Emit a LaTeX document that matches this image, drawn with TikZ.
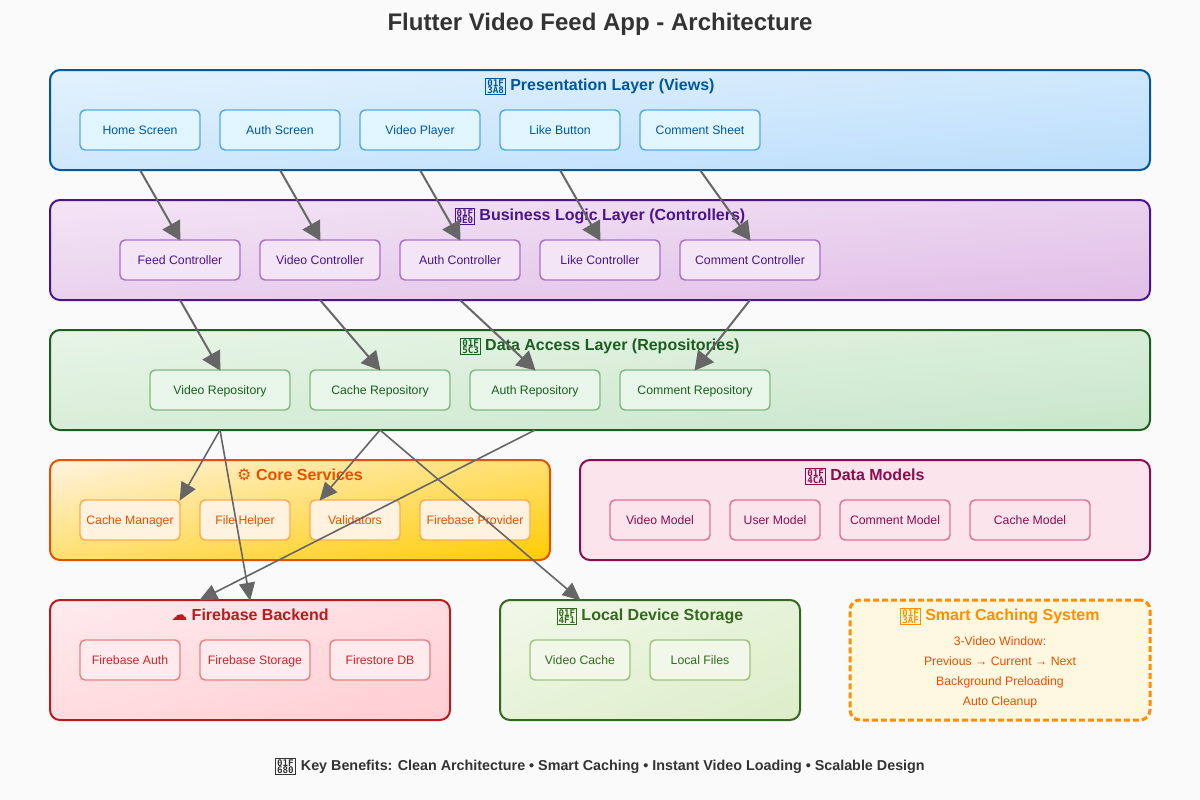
\documentclass[tikz,border=0pt]{standalone}
\usepackage{fontspec}
\usetikzlibrary{arrows.meta}
\setmainfont{Liberation Sans}
\setmonofont{DejaVu Sans Mono}
\newfontfamily\symfont{DejaVu Sans}
\definecolor{pagebg}{HTML}{FAFAFA}
\definecolor{arrowgrey}{HTML}{666666}
\definecolor{titlegrey}{HTML}{333333}
\definecolor{presA}{HTML}{E3F2FD}\definecolor{presB}{HTML}{BBDEFB}\definecolor{presL}{HTML}{01579B}\definecolor{presF}{HTML}{E1F5FE}\definecolor{presS}{HTML}{5AA9DC}
\definecolor{busiA}{HTML}{F3E5F5}\definecolor{busiB}{HTML}{E1BEE7}\definecolor{busiL}{HTML}{4A148C}\definecolor{busiF}{HTML}{F3E5F5}\definecolor{busiS}{HTML}{AB6FC9}
\definecolor{dataA}{HTML}{E8F5E8}\definecolor{dataB}{HTML}{C8E6C9}\definecolor{dataL}{HTML}{1B5E20}\definecolor{dataF}{HTML}{E8F5E9}\definecolor{dataS}{HTML}{81B985}
\definecolor{coreA}{HTML}{FFF3E0}\definecolor{coreB}{HTML}{FFCC02}\definecolor{coreL}{HTML}{E65100}\definecolor{coreF}{HTML}{FFF3E0}\definecolor{coreS}{HTML}{FFAB4D}
\definecolor{modeF}{HTML}{FCE4EC}\definecolor{modeL}{HTML}{880E4F}\definecolor{modeS}{HTML}{E0709C}
\definecolor{fireA}{HTML}{FFEBEE}\definecolor{fireB}{HTML}{FFCDD2}\definecolor{fireL}{HTML}{B71C1C}\definecolor{fireF}{HTML}{FFEBEE}\definecolor{fireS}{HTML}{EC8080}\definecolor{fireT}{HTML}{C62828}
\definecolor{locaA}{HTML}{F1F8E9}\definecolor{locaB}{HTML}{DCEDC8}\definecolor{locaL}{HTML}{33691E}\definecolor{locaF}{HTML}{F1F8E9}\definecolor{locaS}{HTML}{9CC47A}
\definecolor{smarF}{HTML}{FFF8E1}\definecolor{smarL}{HTML}{FF8F00}\definecolor{smarT}{HTML}{E65100}
\newcommand{\diagshade}[1]{\pgfdeclarehorizontalshading{#1grad}{100bp}{color(0bp)=(#1A); color(100bp)=(#1B)}}
\diagshade{pres}\diagshade{busi}\diagshade{data}\diagshade{core}\diagshade{fire}\diagshade{loca}
% corner-to-corner gradient, as a bounding-box diagonal: #1 shading prefix, #2 x, #3 y, #4 w, #5 h (pixels)
\newcommand{\gradfill}[5]{%
  \begin{scope}
  \clip[rounded corners=7.5pt] (#2,#3) rectangle ++(#4,#5);
  \pgfmathsetmacro{\gw}{#4*0.75}\pgfmathsetmacro{\gh}{#5*0.75}
  \pgfmathsetmacro{\ga}{\gw/100.375}\pgfmathsetmacro{\gb}{\gh/100.375}
  \pgfmathsetmacro{\gx}{#2*0.75-\gw/2}\pgfmathsetmacro{\gy}{-#3*0.75-\gh/2}
  \begin{pgfscope}
  \pgflowlevel{\pgftransformcm{\ga}{-\gb}{\ga}{\gb}{\pgfpoint{\gx pt}{\gy pt}}}
  \pgftext[at=\pgfpointorigin,left,bottom]{\pgfuseshading{#1grad}}
  \end{pgfscope}
  \end{scope}}
\newcommand{\tofu}[2]{\raisebox{-2.4pt}{\fboxsep=0.8pt\fboxrule=0.6pt\fbox{\vbox{\offinterlineskip\fontsize{6.9}{6.7}\selectfont\ttfamily\hbox{\vphantom{0}#1}\hbox{\vphantom{0}#2}}}}}
\tikzset{
  x=0.75pt,y=-0.75pt,
  panel/.style={rounded corners=7.5pt,line width=1.5pt,inner sep=0pt,outer sep=0pt,anchor=north west},
  item/.style={rounded corners=3.75pt,line width=1.1pt,inner sep=0pt,outer sep=0pt,anchor=north west,font=\fontsize{9.2}{11}\selectfont,text height=6.5pt,text depth=0.5pt},
  head/.style={anchor=base,font=\fontsize{12}{14}\selectfont\bfseries},
  smalltext/.style={anchor=base,text=smarT,font=\fontsize{9.2}{11}\selectfont},
  flow/.style={draw=arrowgrey,line width=1.5pt,shorten >=-0.6pt,-{Triangle[length=14pt,width=15pt]}},
  flowthin/.style={draw=arrowgrey,line width=1.2pt,shorten >=-0.6pt,-{Triangle[length=13.5pt,width=12pt]}},
}
\newcommand{\panel}[7]{\node[panel,draw=#6,minimum width=#4*0.75pt,minimum height=#5*0.75pt,#7] (#1) at (#2,#3) {};}
\newcommand{\pnode}[7]{\node[item,draw=#6S,fill=#6F,text=#6L,minimum width=#4*0.75pt,minimum height=#5*0.75pt] (#1) at (#2,#3) {#7};}
\begin{document}
\begin{tikzpicture}
\useasboundingbox (0,0) rectangle (1200,800);
\fill[pagebg] (0,0) rectangle (1200,800);
\node[anchor=base,text=titlegrey,font=\fontsize{18}{22}\selectfont\bfseries] (maintitle) at (600,30) {Flutter Video Feed App - Architecture};
% panels
\gradfill{pres}{50}{70}{1100}{100}
\gradfill{busi}{50}{200}{1100}{100}
\gradfill{data}{50}{330}{1100}{100}
\gradfill{core}{50}{460}{500}{100}
\gradfill{fire}{50}{600}{400}{120}
\gradfill{loca}{500}{600}{300}{120}
\panel{pres}{50}{70}{1100}{100}{presL}{}
\panel{busi}{50}{200}{1100}{100}{busiL}{}
\panel{data}{50}{330}{1100}{100}{dataL}{}
\panel{core}{50}{460}{500}{100}{coreL}{}
\panel{mode}{580}{460}{570}{100}{modeL}{fill=modeF}
\panel{fire}{50}{600}{400}{120}{fireL}{}
\panel{loca}{500}{600}{300}{120}{locaL}{}
\node[panel,draw=smarL,fill=smarF,line width=2.25pt,dash pattern=on 4.5pt off 2.25pt,minimum width=225pt,minimum height=90pt] (smar) at (850,600) {};
% titles
\node[head,text=presL] (presT) at (600,90) {\tofu{01F}{3A8} Presentation Layer (Views)};
\node[head,text=busiL] (busiT) at (600,220) {\tofu{01F}{9E0} Business Logic Layer (Controllers)};
\node[head,text=dataL] (dataT) at (600,350) {\tofu{01F}{5C3} Data Access Layer (Repositories)};
\node[head,text=coreL] (coreT) at (300,480) {{\symfont ⚙} Core Services};
\node[head,text=modeL] (modeT) at (865,480) {\tofu{01F}{4CA} Data Models};
\node[head,text=fireL] (fireT) at (250,620) {{\symfont ☁} Firebase Backend};
\node[head,text=locaL] (locaT) at (650,620) {\tofu{01F}{4F1} Local Device Storage};
\node[head,text=smarL] (smarH) at (1000,620) {\tofu{01F}{3AF} Smart Caching System};
% presentation
\pnode{home}{80}{110}{120}{40}{pres}{Home Screen}
\pnode{authS}{220}{110}{120}{40}{pres}{Auth Screen}
\pnode{player}{360}{110}{120}{40}{pres}{Video Player}
\pnode{likeB}{500}{110}{120}{40}{pres}{Like Button}
\pnode{sheet}{640}{110}{120}{40}{pres}{Comment Sheet}
% business
\pnode{feedC}{120}{240}{120}{40}{busi}{Feed Controller}
\pnode{videoC}{260}{240}{120}{40}{busi}{Video Controller}
\pnode{authC}{400}{240}{120}{40}{busi}{Auth Controller}
\pnode{likeC}{540}{240}{120}{40}{busi}{Like Controller}
\pnode{commC}{680}{240}{140}{40}{busi}{Comment Controller}
% data
\pnode{videoR}{150}{370}{140}{40}{data}{Video Repository}
\pnode{cacheR}{310}{370}{140}{40}{data}{Cache Repository}
\pnode{authR}{470}{370}{130}{40}{data}{Auth Repository}
\pnode{commR}{620}{370}{150}{40}{data}{Comment Repository}
% core
\pnode{cacheM}{80}{500}{100}{40}{core}{Cache Manager}
\pnode{fileH}{200}{500}{90}{40}{core}{File Helper}
\pnode{valid}{310}{500}{90}{40}{core}{Validators}
\pnode{fireP}{420}{500}{110}{40}{core}{Firebase Provider}
% models
\node[item,draw=modeS,fill=modeF,text=modeL,minimum width=75pt,minimum height=30pt] (videoM) at (610,500) {Video Model};
\node[item,draw=modeS,fill=modeF,text=modeL,minimum width=67.5pt,minimum height=30pt] (userM) at (730,500) {User Model};
\node[item,draw=modeS,fill=modeF,text=modeL,minimum width=82.5pt,minimum height=30pt] (commM) at (840,500) {Comment Model};
\node[item,draw=modeS,fill=modeF,text=modeL,minimum width=90pt,minimum height=30pt] (cacheMo) at (970,500) {Cache Model};
% firebase
\node[item,draw=fireS,fill=fireF,text=fireT,minimum width=75pt,minimum height=30pt] (fAuth) at (80,640) {Firebase Auth};
\node[item,draw=fireS,fill=fireF,text=fireT,minimum width=82.5pt,minimum height=30pt] (fStor) at (200,640) {Firebase Storage};
\node[item,draw=fireS,fill=fireF,text=fireT,minimum width=75pt,minimum height=30pt] (fStore) at (330,640) {Firestore DB};
% local
\pnode{vCache}{530}{640}{100}{40}{loca}{Video Cache}
\pnode{lFiles}{650}{640}{100}{40}{loca}{Local Files}
% smart text
\node[smalltext] (s1) at (1000,645) {3-Video Window:};
\node[smalltext] (s2) at (1000,665) {Previous → Current → Next};
\node[smalltext] (s3) at (1000,685) {Background Preloading};
\node[smalltext] (s4) at (1000,705) {Auto Cleanup};
% footer
\node[anchor=base,text=titlegrey,font=\fontsize{10.75}{13}\selectfont\bfseries] (foot) at (600,770) {\tofu{01F}{680}\hspace{1pt} Key Benefits: Clean Architecture • Smart Caching • Instant Video Loading • Scalable Design};
% connectors
\draw[flow] (home |- pres.south) -- (feedC.north);
\draw[flow] (authS |- pres.south) -- (videoC.north);
\draw[flow] (player |- pres.south) -- (authC.north);
\draw[flow] (likeB |- pres.south) -- (likeC.north);
\draw[flow] (sheet |- pres.south) -- (commC.north);
\draw[flow] (feedC |- busi.south) -- (videoR.north);
\draw[flow] (videoC |- busi.south) -- (cacheR.north);
\draw[flow] (authC |- busi.south) -- (authR.north);
\draw[flow] (commC |- busi.south) -- (commR.north);
\draw[flowthin] (videoR |- data.south) -- (cacheM.north east);
\draw[flowthin] (videoR |- data.south) -- (fire.north);
\draw[flowthin] (cacheR |- data.south) -- ([xshift=7.5pt]valid.north west);
\draw[flowthin] (cacheR |- data.south) -- ([xshift=60pt]loca.north west);
\draw[flowthin] (authR |- data.south) -- ([xshift=-37.5pt]fire.north);
\end{tikzpicture}
\end{document}
